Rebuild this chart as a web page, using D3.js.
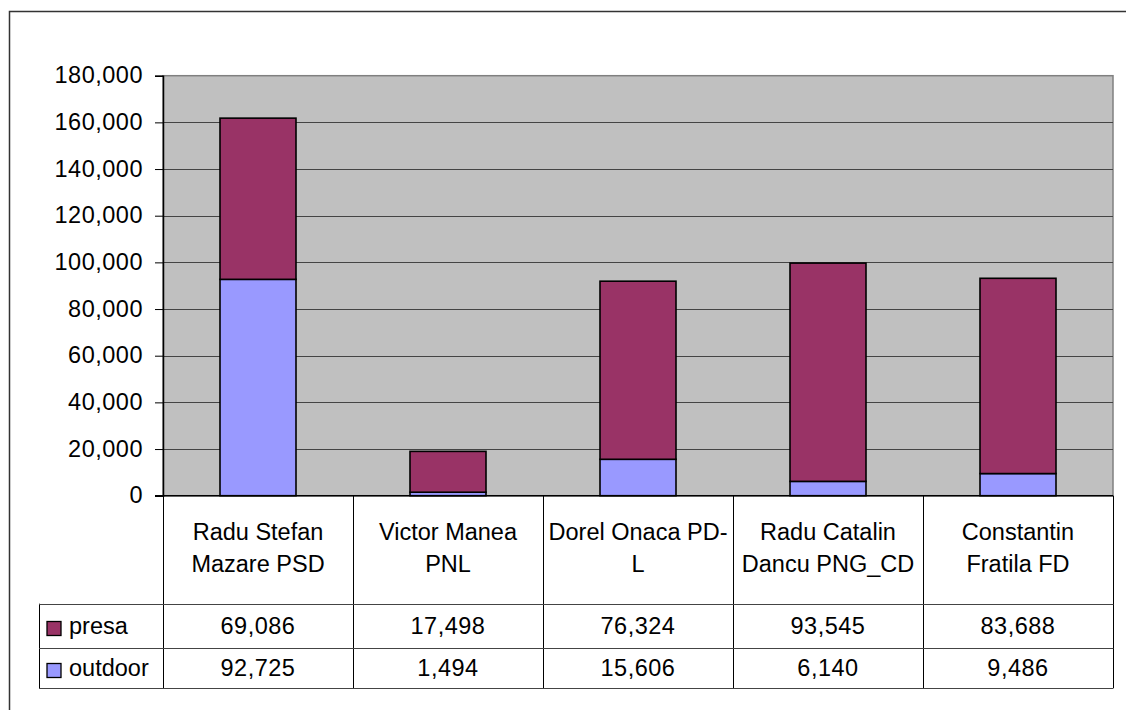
<!DOCTYPE html>
<html>
<head>
<meta charset="utf-8">
<script src="https://cdn.jsdelivr.net/npm/d3@7"></script>
<style>
  html, body { margin: 0; padding: 0; background: #fff; }
  svg { display: block; }
  text { font-family: "Liberation Sans", Arial, sans-serif; font-size: 23.5px; fill: #000; }
  .num { letter-spacing: 0.5px; }
</style>
</head>
<body>
<svg id="chart" width="1126" height="710"></svg>
<script>
// ---- data ----
const categories = ["Radu Stefan Mazare PSD", "Victor Manea PNL", "Dorel Onaca PD-L", "Radu Catalin Dancu PNG_CD", "Constantin Fratila FD"];
const categoryLines = [["Radu Stefan", "Mazare PSD"], ["Victor Manea", "PNL"], ["Dorel Onaca PD-", "L"], ["Radu Catalin", "Dancu PNG_CD"], ["Constantin", "Fratila FD"]];
const seriesNames = ["presa", "outdoor"];
const presa = [69086, 17498, 76324, 93545, 83688];
const outdoor = [92725, 1494, 15606, 6140, 9486];
const yTicks = [0, 20000, 40000, 60000, 80000, 100000, 120000, 140000, 160000, 180000];
const colors = { presa: "#993366", outdoor: "#9999FF" };

// ---- layout ----
const svg = d3.select("#chart");
const plot = { left: 163, right: 1113, top: 75.7, bottom: 495.7 };
const table = { legendLeft: 39, row1: 603.7, row2: 648.3, row3: 688 };

const x = d3.scaleBand().domain(categories).range([plot.left, plot.right]).paddingInner(0.6).paddingOuter(0.3);
const xCol = d3.scaleBand().domain(categories).range([plot.left, plot.right]);
const y = d3.scaleLinear().domain([0, 180000]).range([plot.bottom, plot.top]);

// outer border
svg.append("rect").attr("x", 9.5).attr("y", 11.5).attr("width", 1300).attr("height", 1000)
  .attr("fill", "none").attr("stroke", "#333").attr("stroke-width", 1.5);

// plot background
svg.append("rect").attr("x", plot.left).attr("y", plot.top)
  .attr("width", plot.right - plot.left).attr("height", plot.bottom - plot.top)
  .attr("fill", "#C0C0C0").attr("stroke", "#808080").attr("stroke-width", 1.5);

// gridlines
svg.append("g").selectAll("line").data(yTicks.filter(d => d > 0 && d < 180000)).join("line")
  .attr("x1", plot.left).attr("x2", plot.right)
  .attr("y1", d => Math.round(y(d)) + 0.5).attr("y2", d => Math.round(y(d)) + 0.5)
  .attr("stroke", "#444").attr("stroke-width", 1);

// y axis
const yAxis = d3.axisLeft(y).tickValues(yTicks).tickSize(8).tickPadding(12)
  .tickFormat(d3.format(","));
const gy = svg.append("g").attr("transform", `translate(${plot.left},0)`).call(yAxis);
gy.select(".domain").attr("stroke", "#000").attr("stroke-width", 1.5);
gy.selectAll(".tick line").attr("stroke", "#000");
gy.selectAll(".tick text").attr("font-family", "Liberation Sans, Arial, sans-serif")
  .attr("font-size", 23.5).attr("fill", "#000").attr("dy", "0.3em").attr("class", "num");

// stacked bars
const stackData = categories.map((c, i) => ({ cat: c, outdoor: outdoor[i], presa: presa[i] }));
const stack = d3.stack().keys(["outdoor", "presa"])(stackData);
svg.append("g").selectAll("g").data(stack).join("g")
  .attr("fill", d => colors[d.key])
  .selectAll("rect").data(d => d).join("rect")
  .attr("x", d => x(d.data.cat))
  .attr("width", x.bandwidth())
  .attr("y", d => y(d[1]))
  .attr("height", d => y(d[0]) - y(d[1]))
  .attr("stroke", "#000").attr("stroke-width", 1.6);

// baseline
svg.append("line").attr("x1", plot.left - 8).attr("x2", plot.right)
  .attr("y1", plot.bottom).attr("y2", plot.bottom).attr("stroke", "#000").attr("stroke-width", 1.5);

// ---- data table ----
const tg = svg.append("g");
const colEdges = categories.map(c => xCol(c)).concat([plot.right]);
tg.selectAll("line.v").data(colEdges).join("line").attr("class", "v")
  .attr("x1", d => Math.round(d) + 0.5).attr("x2", d => Math.round(d) + 0.5)
  .attr("y1", plot.bottom).attr("y2", table.row3)
  .attr("stroke", "#000").attr("stroke-width", 1);
tg.append("line").attr("x1", table.legendLeft + 0.5).attr("x2", table.legendLeft + 0.5)
  .attr("y1", table.row1).attr("y2", table.row3).attr("stroke", "#000");
tg.selectAll("line.h").data([table.row1, table.row2, table.row3]).join("line").attr("class", "h")
  .attr("x1", table.legendLeft).attr("x2", plot.right + 0.5)
  .attr("y1", d => Math.round(d) + 0.5).attr("y2", d => Math.round(d) + 0.5)
  .attr("stroke", "#444").attr("stroke-width", 1);

// category labels
categories.forEach((c, i) => {
  const t = tg.append("text").attr("text-anchor", "middle")
    .attr("x", xCol(c) + xCol.bandwidth() / 2);
  categoryLines[i].forEach((ln, j) => {
    t.append("tspan").attr("x", xCol(c) + xCol.bandwidth() / 2).attr("y", 540 + j * 32).text(ln);
  });
});

// value rows
const fmt = d3.format(",");
const rows = [{ name: "presa", vals: presa, base: 634 }, { name: "outdoor", vals: outdoor, base: 676 }];
rows.forEach(r => {
  tg.append("rect").attr("x", 47).attr("y", r.base - 12.5).attr("width", 14).attr("height", 14)
    .attr("fill", colors[r.name]).attr("stroke", "#000").attr("stroke-width", 1.3);
  tg.append("text").attr("x", 69).attr("y", r.base).text(r.name);
  r.vals.forEach((v, i) => {
    tg.append("text").attr("class", "num").attr("text-anchor", "middle")
      .attr("x", xCol(categories[i]) + xCol.bandwidth() / 2).attr("y", r.base).text(fmt(v));
  });
});
</script>
</body>
</html>
